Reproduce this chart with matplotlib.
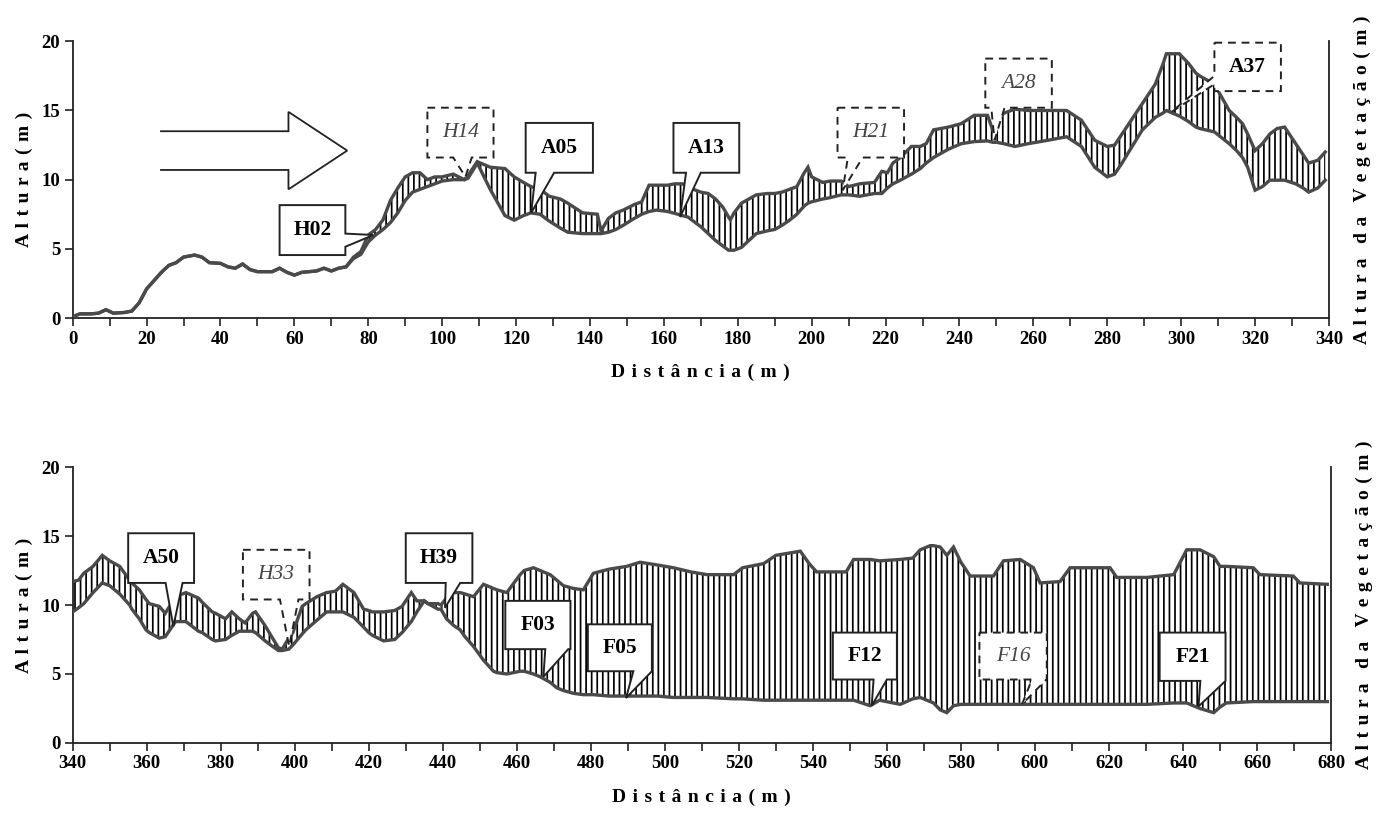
import numpy as np
import matplotlib
matplotlib.use("Agg")
import matplotlib.pyplot as plt
from matplotlib.patches import Polygon
from matplotlib.ticker import MultipleLocator

plt.rcParams['font.family'] = ['Liberation Serif', 'DejaVu Serif']
plt.rcParams['hatch.linewidth'] = 1.25

## Perfil 1: 0 - 340 m  (distância, altura do terreno, topo da vegetação)
dist_a = [0, 2, 5, 7, 9, 11, 14, 16, 18, 20, 22, 24, 26, 28, 30, 33, 35, 37, 40, 42,
          44, 46, 48, 50, 54, 56, 58, 60, 62, 66, 68, 70, 72, 74, 76, 78, 80, 82, 84, 86,
          88, 90, 92, 94, 96, 98, 100, 103, 106, 107, 109.5, 113, 117, 119.5, 122, 124, 126.5, 129, 132, 134,
          138, 142, 143, 145, 147, 149, 152, 154, 156, 158, 161, 163, 165, 166.5, 168, 170, 172, 174, 176, 177.5,
          178, 179, 181, 183, 185, 188, 190, 192, 194, 196, 198, 199, 200, 203, 205, 208, 210, 213, 217, 219,
          220.5, 222, 224, 227, 229.4, 231, 233, 235, 237, 240.5, 244, 247.6, 249, 250, 252, 255, 258.6, 264, 269, 273,
          276.6, 280, 282, 284, 286.5, 289.5, 293, 295, 296, 299.5, 302, 304, 305, 309, 313, 315, 316.6, 318, 320, 322,
          324, 326, 328, 331, 333, 334.5, 337, 339]
terreno_a = [0.1, 0.3, 0.3, 0.35, 0.6, 0.35, 0.4, 0.5, 1.1, 2.1, 2.7, 3.3, 3.8, 4.0, 4.4, 4.55, 4.4, 4.0, 3.95, 3.7,
             3.6, 3.9, 3.5, 3.35, 3.35, 3.6, 3.3, 3.1, 3.3, 3.4, 3.6, 3.4, 3.6, 3.7, 4.3, 4.6, 5.5, 6.0, 6.4, 6.9,
             7.6, 8.5, 9.1, 9.3, 9.5, 9.7, 9.9, 10.0, 10.0, 10.1, 11.2, 9.3, 7.4, 7.07, 7.4, 7.6, 7.5, 7.0, 6.5, 6.2,
             6.1, 6.1, 6.1, 6.2, 6.4, 6.7, 7.2, 7.5, 7.7, 7.8, 7.7, 7.56, 7.4, 7.3, 7.0, 6.6, 6.1, 5.6, 5.2, 4.9,
             4.9, 4.9, 5.1, 5.6, 6.1, 6.3, 6.4, 6.7, 7.07, 7.5, 8.1, 8.3, 8.4, 8.6, 8.7, 8.9, 8.9, 8.8, 9.0, 9.0,
             9.4, 9.7, 9.96, 10.4, 10.8, 11.2, 11.6, 11.9, 12.2, 12.6, 12.75, 12.8, 12.7, 12.7, 12.6, 12.4, 12.6, 12.85, 13.1, 12.4,
             10.9, 10.2, 10.4, 11.2, 12.3, 13.6, 14.5, 14.8, 15.0, 14.6, 14.2, 13.8, 13.7, 13.45, 12.6, 12.1, 11.6, 10.9, 9.24, 9.5,
             9.96, 9.96, 9.96, 9.7, 9.4, 9.1, 9.4, 9.96]
dossel_a = [0.1, 0.3, 0.3, 0.35, 0.6, 0.35, 0.4, 0.5, 1.1, 2.1, 2.7, 3.3, 3.8, 4.0, 4.4, 4.55, 4.4, 4.0, 3.95, 3.7,
            3.6, 3.9, 3.5, 3.35, 3.35, 3.6, 3.3, 3.1, 3.3, 3.4, 3.6, 3.4, 3.6, 3.7, 4.4, 4.8, 6.0, 6.4, 7.1, 8.5,
            9.4, 10.2, 10.5, 10.5, 10.0, 10.2, 10.2, 10.4, 10.0, 10.3, 11.3, 10.9, 10.8, 10.2, 9.8, 9.5, 9.3, 8.8, 8.6, 8.3,
            7.6, 7.5, 6.3, 7.2, 7.6, 7.8, 8.2, 8.4, 9.6, 9.6, 9.6, 9.7, 9.7, 9.5, 9.3, 9.1, 9.0, 8.6, 8.0, 7.3,
            7.1, 7.6, 8.3, 8.6, 8.9, 9.0, 9.0, 9.1, 9.3, 9.5, 10.5, 10.9, 10.2, 9.8, 9.9, 9.9, 9.5, 9.7, 9.8, 10.6,
            10.5, 11.2, 11.6, 12.4, 12.4, 12.6, 13.6, 13.7, 13.8, 14.05, 14.65, 14.65, 13.6, 14.2, 14.8, 15.1, 15.0, 15.0, 15.0, 14.3,
            12.85, 12.4, 12.5, 13.3, 14.3, 15.5, 16.9, 18.3, 19.1, 19.1, 18.4, 17.7, 17.5, 16.9, 15.0, 14.5, 14.05, 13.3, 12.1, 12.6,
            13.3, 13.7, 13.8, 12.6, 11.8, 11.2, 11.4, 12.0]

## Perfil 2: 340 - 680 m
dist_b = [340, 341.6, 343, 345.5, 348, 350, 352.7, 355.4, 356, 358, 359.8, 360.7, 363.4, 365, 367.8, 370.6, 374, 375, 377.7, 378.6,
          381.3, 383, 385, 386.6, 388.6, 389.4, 392, 394, 395.6, 396.6, 398.4, 399.5, 402, 403, 406, 408.6, 411, 413, 416, 418.6,
          420, 421, 424, 427, 429, 431.5, 433, 435, 436, 438.7, 439.5, 441, 443, 444.7, 446, 448.3, 451, 453.7, 454.6, 457.3,
          460.9, 462, 464.5, 466.3, 469, 470.8, 472.6, 475.3, 478, 480.7, 485, 489.7, 493.3, 498, 502.3, 507, 511.4, 518.6, 521, 526.7,
          530, 536.6, 539, 541, 549, 551, 555.5, 558, 563.6, 567, 569, 571.7, 572.6, 574.4, 576.2, 578, 580, 582.5, 588.8, 591.5,
          596, 599.6, 601.4, 606.8, 609.5, 620.3, 622.1, 630.3, 637.5, 641, 644.6, 648.3, 650, 651.7, 659, 660.8, 669.8, 671.6, 679]
terreno_b = [9.5, 9.8, 10.1, 10.9, 11.6, 11.4, 10.8, 10.0, 9.7, 9.0, 8.2, 8.0, 7.6, 7.7, 8.8, 8.8, 8.1, 8.0, 7.5, 7.4,
             7.5, 7.8, 8.1, 8.1, 8.1, 8.0, 7.4, 7.0, 6.7, 6.7, 6.8, 7.1, 7.9, 8.2, 8.9, 9.5, 9.5, 9.5, 9.1, 8.4,
             8.0, 7.8, 7.4, 7.5, 8.0, 8.8, 9.5, 10.3, 10.1, 9.7, 9.7, 9.0, 8.5, 8.2, 7.7, 7.0, 6.0, 5.2, 5.1, 5.0,
             5.2, 5.2, 5.0, 4.8, 4.4, 4.0, 3.8, 3.6, 3.5, 3.5, 3.4, 3.4, 3.4, 3.4, 3.3, 3.3, 3.3, 3.2, 3.2, 3.1,
             3.1, 3.1, 3.1, 3.1, 3.1, 3.1, 2.7, 3.1, 2.8, 3.2, 3.3, 3.0, 2.9, 2.4, 2.2, 2.7, 2.8, 2.8, 2.8, 2.8,
             2.8, 2.8, 2.8, 2.8, 2.8, 2.8, 2.8, 2.8, 2.9, 2.9, 2.5, 2.2, 2.6, 2.9, 3.0, 3.0, 3.0, 3.0, 3.0]
dossel_b = [11.7, 11.8, 12.3, 12.8, 13.6, 13.2, 12.8, 11.8, 11.6, 11.1, 10.4, 10.1, 9.9, 9.4, 10.6, 10.9, 10.5, 10.2, 9.5, 9.4,
            9.0, 9.5, 9.0, 8.7, 9.4, 9.5, 8.5, 7.6, 6.9, 6.8, 7.6, 8.0, 9.9, 10.1, 10.6, 10.9, 11.0, 11.5, 10.9, 9.7,
            9.6, 9.5, 9.5, 9.6, 9.9, 10.9, 10.3, 10.3, 10.1, 10.1, 10.0, 10.5, 10.9, 10.9, 10.8, 10.6, 11.5, 11.2, 11.1, 10.9,
            12.2, 12.5, 12.7, 12.5, 12.2, 11.8, 11.4, 11.2, 11.1, 12.3, 12.6, 12.8, 13.1, 12.9, 12.7, 12.4, 12.2, 12.2, 12.7, 13.0,
            13.6, 13.9, 13.0, 12.4, 12.4, 13.3, 13.3, 13.2, 13.3, 13.4, 14.0, 14.3, 14.3, 14.2, 13.6, 14.2, 13.1, 12.1, 12.1, 13.2,
            13.3, 12.7, 11.6, 11.7, 12.7, 12.7, 12.0, 12.0, 12.2, 14.0, 14.0, 13.5, 12.8, 12.8, 12.7, 12.2, 12.1, 11.6, 11.5]

## Balões: rótulo, caixa (x0, x1, y0, y1), lado do bico, base do bico, ponta, tracejado, itálico
baloes_a = [
    ('H02', (56.0, 73.8, 4.55, 8.16), 'right', (5.15, 6.1), (81.4, 6.0), False, False),
    ('H14', (96.0, 113.9, 11.6, 15.2), 'bottom', (103.0, 108.0), (106.3, 10.2), True, True),
    ('A05', (122.6, 140.8, 10.5, 14.1), 'bottom', (125.3, 130.3), (124.1, 7.6), False, False),
    ('A13', (162.6, 180.4, 10.5, 14.1), 'bottom', (166.0, 170.0), (164.4, 7.3), False, False),
    ('H21', (207.0, 225.0, 11.6, 15.2), 'bottom', (209.8, 213.8), (208.4, 9.24), True, True),
    ('A28', (247.0, 265.0, 15.2, 18.75), 'bottom', (248.6, 252.2), (249.5, 12.85), True, True),
    ('A37', (309.0, 327.0, 16.4, 19.9), 'left', (16.9, 17.5), (297.4, 14.9), True, False),
]
baloes_b = [
    ('A50', (355.0, 372.8, 11.6, 15.2), 'bottom', (365.1, 369.7), (367.2, 8.45), False, False),
    ('H33', (386.0, 404.0, 10.4, 14.0), 'bottom', (396.0, 401.0), (398.5, 7.0), True, True),
    ('H39', (430.0, 448.0, 11.6, 15.2), 'bottom', (440.8, 444.7), (440.6, 9.8), False, False),
    ('F03', (456.9, 474.5, 6.8, 10.3), 'bottom', (467.7, 473.9), (467.2, 4.8), False, False),
    ('F05', (479.2, 496.5, 5.2, 8.6), 'bottom', (491.5, 496.5), (489.5, 3.26), False, False),
    ('F12', (545.4, 562.7, 4.6, 8.0), 'bottom', (556.4, 560.0), (555.9, 2.7), False, False),
    ('F16', (585.0, 603.2, 4.6, 8.0), 'bottom', (599.2, 603.1), (596.5, 2.8), True, True),
    ('F21', (633.7, 651.5, 4.5, 8.0), 'bottom', (644.7, 651.5), (644.2, 2.65), False, False),
]

## seta de sentido do percurso (contorno aberto)
seta_x = [23.9, 58.4, 58.4, 74.3, 58.4, 58.4, 23.9]
seta_y = [13.5, 13.5, 14.9, 12.1, 9.3, 10.7, 10.7]

LINE_COLOR = '#4a4a4a'


def spaced(text):
    # letras espaçadas, palavras com folga maior
    return '   '.join(' \u200a'.join(w) for w in text.split(' '))


def draw_callout(ax, label, box, side, base, tip, dashed, italic):
    x0, x1, y0, y1 = box
    b0, b1 = base
    if side == 'bottom':
        verts = [(x0, y1), (x1, y1), (x1, y0), (b1, y0), tip, (b0, y0), (x0, y0)]
    elif side == 'right':
        verts = [(x0, y1), (x1, y1), (x1, b1), tip, (x1, b0), (x1, y0), (x0, y0)]
    else:
        verts = [(x0, y1), (x1, y1), (x1, y0), (x0, y0), (x0, b0), tip, (x0, b1)]
    poly = Polygon(verts, closed=True, facecolor='white', edgecolor='#222222',
                   linewidth=1.4, linestyle=(0, (4, 3)) if dashed else '-', zorder=6)
    ax.add_patch(poly)
    ax.text((x0 + x1) / 2, (y0 + y1) / 2, label, ha='center', va='center', zorder=7,
            fontsize=15.5, fontweight='normal' if italic else 'bold',
            fontstyle='italic' if italic else 'normal',
            color='#444444' if italic else 'black')


def draw_profile(ax, dist, terreno, dossel, xlim, callouts):
    dist = np.asarray(dist)
    terreno = np.asarray(terreno)
    dossel = np.asarray(dossel)

    ## vegetação hachurada entre terreno e topo do dossel
    ax.fill_between(dist, terreno, dossel, facecolor='white', edgecolor='black',
                    hatch='|||', linewidth=0, zorder=2)
    ax.plot(dist, dossel, color=LINE_COLOR, lw=2.4, zorder=3, solid_joinstyle='miter')
    ax.plot(dist, terreno, color=LINE_COLOR, lw=2.4, zorder=3, solid_joinstyle='miter')

    for c in callouts:
        draw_callout(ax, *c)

    ax.set_xlim(*xlim)
    ax.set_ylim(0, 20)
    ax.xaxis.set_major_locator(MultipleLocator(20))
    ax.xaxis.set_minor_locator(MultipleLocator(10))
    ax.yaxis.set_major_locator(MultipleLocator(5))

    ax.spines['top'].set_visible(False)
    for s in ('left', 'bottom', 'right'):
        ax.spines[s].set_linewidth(1.3)
        ax.spines[s].set_color('#222222')
    ax.tick_params(axis='both', which='both', direction='out', width=1.2, colors='#222222')
    ax.tick_params(axis='both', which='major', length=6, labelsize=13.5, pad=3)
    ax.tick_params(axis='x', which='minor', length=6)
    ax.tick_params(axis='y', right=True, labelright=False)
    for lab in ax.get_xticklabels() + ax.get_yticklabels():
        lab.set_fontweight('bold')
        lab.set_color('black')

    ax.set_ylabel(spaced('Altura(m)'), fontsize=14, fontweight='bold', labelpad=6)
    ax.set_xlabel(spaced('Distância(m)'), fontsize=14, fontweight='bold', labelpad=12)

    ax2 = ax.twinx()
    ax2.set_ylim(0, 20)
    ax2.set_yticks([])
    ax2.spines[:].set_visible(False)
    ax2.set_ylabel(spaced('Altura da Vegetação(m)'), fontsize=14,
                   fontweight='bold', labelpad=18)


fig = plt.figure(figsize=(13.79, 8.26), dpi=100)
ax_top = fig.add_axes([0.0527, 0.615, 0.911, 0.335])
ax_bot = fig.add_axes([0.0527, 0.1005, 0.9125, 0.3341])

draw_profile(ax_top, dist_a, terreno_a, dossel_a, (0, 340), baloes_a)
draw_profile(ax_bot, dist_b, terreno_b, dossel_b, (340, 680), baloes_b)

ax_top.plot(seta_x, seta_y, color='#222222', lw=1.3, zorder=4, solid_joinstyle='miter')

fig.savefig('out.png', dpi=100, facecolor='white')
